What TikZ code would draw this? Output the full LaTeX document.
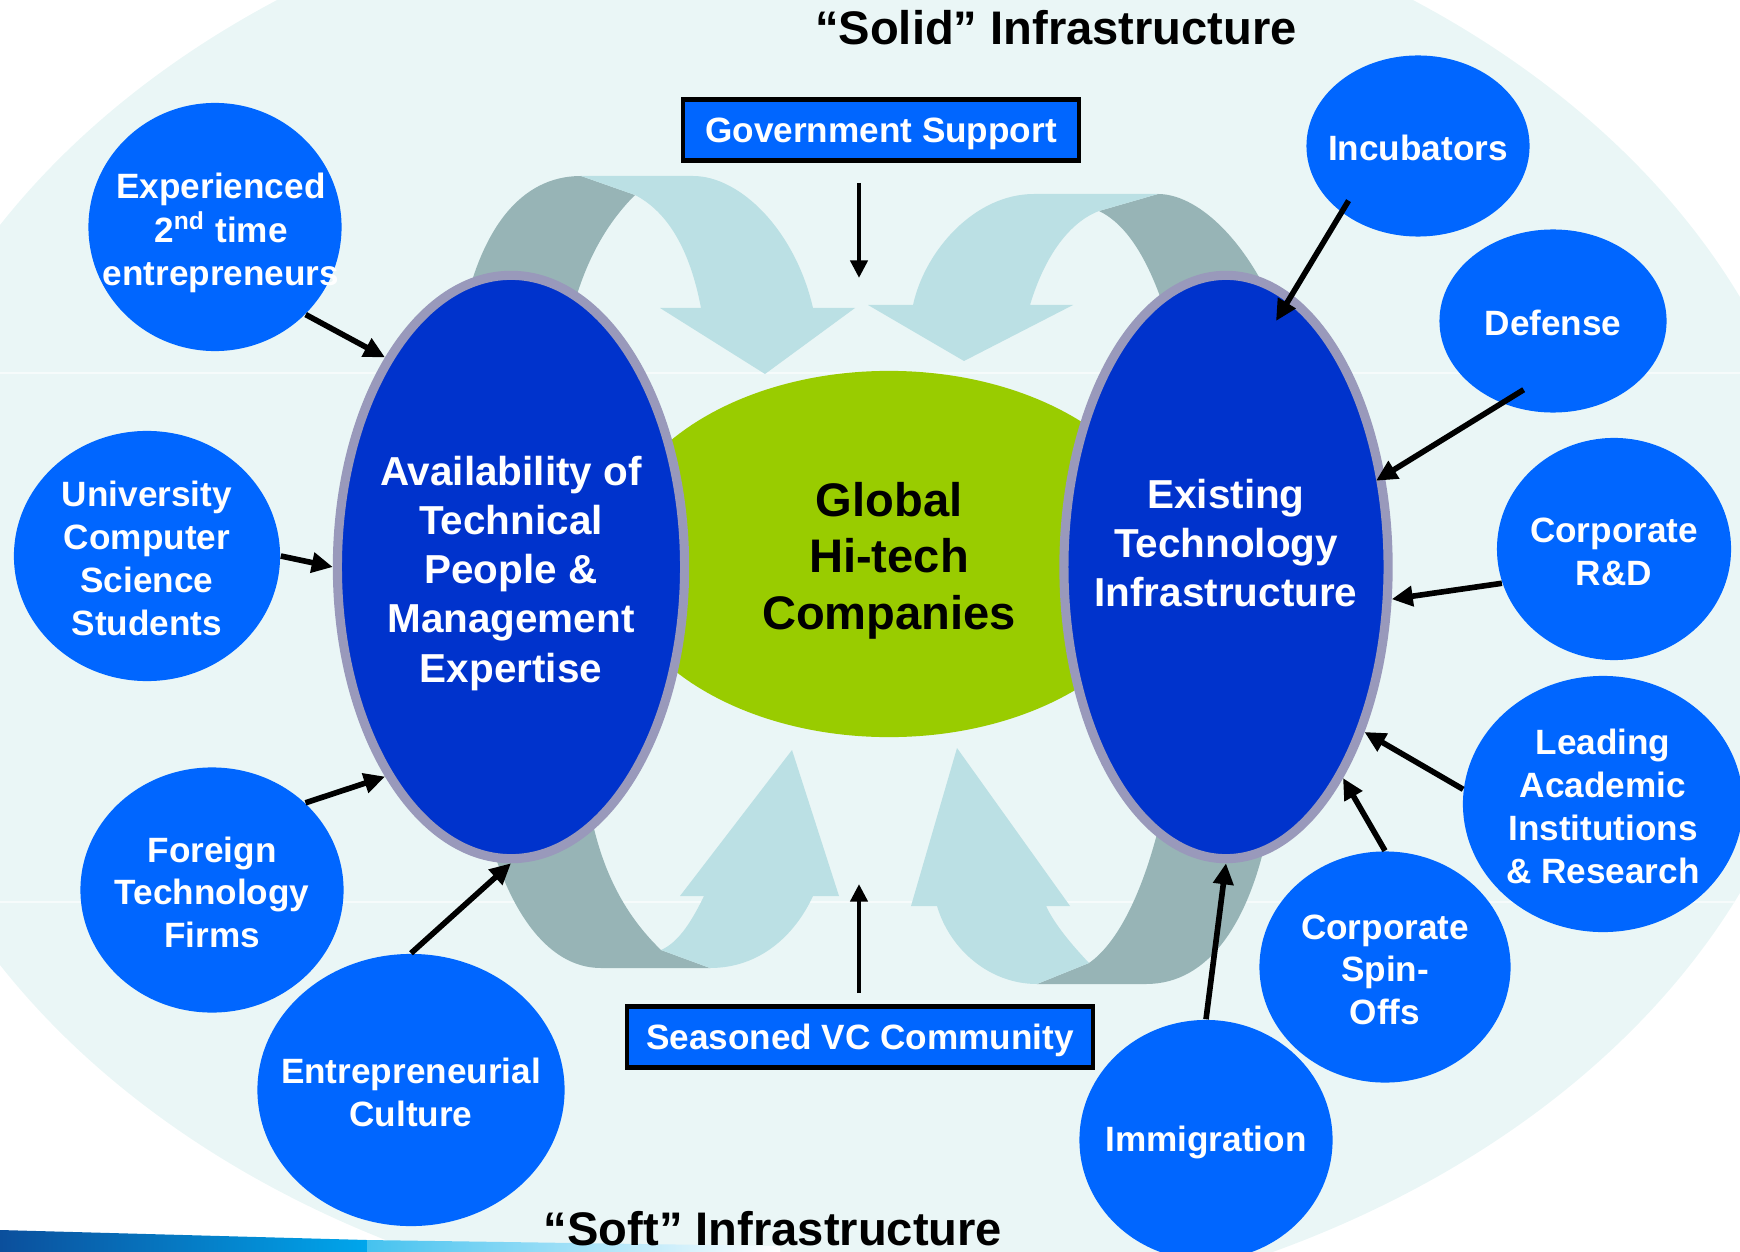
\documentclass[tikz,border=0pt]{standalone}
\usepackage{fontspec}
\setmainfont{Liberation Sans}
\usetikzlibrary{arrows.meta,shapes.geometric}
\definecolor{bgcyan}{HTML}{EAF6F6}
\definecolor{ribbonlight}{HTML}{BBE0E4}
\definecolor{ribbongray}{HTML}{97B4B6}
\definecolor{hitechgreen}{HTML}{99CC00}
\definecolor{coreblue}{HTML}{0033CC}
\definecolor{corerim}{HTML}{9999BB}
\definecolor{factorblue}{HTML}{0066FF}
\definecolor{swooshdark}{HTML}{0B4F9C}
\definecolor{swooshblue}{HTML}{00A6EC}
\definecolor{swooshlight}{HTML}{45C2EF}
\newcommand{\ovaltext}[2][0pt]{\makebox[0pt]{\raisebox{\dimexpr#1-0.43em\relax}[0pt][0pt]{\begin{tabular}{@{}c@{}}#2\end{tabular}}}}
\begin{document}
\begin{tikzpicture}[x=0.01cm,y=-0.01cm,>={Triangle[length=6pt,width=5.6pt]}]
\tikzset{
  factor/.style={shape=ellipse,fill=factorblue,inner sep=0pt,text=white,font=\fontsize{10}{12.2}\selectfont\bfseries},
  core/.style={shape=ellipse,fill=coreblue,draw=corerim,line width=2.6pt,inner sep=0pt,text=white,minimum height=5.83cm,font=\fontsize{11.5}{14}\selectfont\bfseries},
  banner/.style={draw=black,line width=1.2pt,fill=factorblue,text=white,inner sep=0pt,text height=7.2pt,text depth=0pt,minimum height=0.61cm,font=\fontsize{10}{12}\selectfont\bfseries},
  heading/.style={inner sep=0pt,font=\fontsize{13.4}{16}\selectfont\bfseries},
  feed/.style={->,line width=1.6pt},
  lead/.style={-{Triangle[length=5pt,width=4.8pt]},line width=1.3pt}
}
\useasboundingbox (0,0) rectangle (1740,1252);
\fill[bgcyan] (845,595) ellipse [x radius=980,y radius=730];
\begin{scope}
\clip (845,595) ellipse [x radius=980,y radius=730];
\draw[white!55!bgcyan,line width=0.8pt] (0,373) -- (1740,373) (0,902) -- (1740,902);
\end{scope}
\shade[left color=swooshdark,right color=swooshblue] (0,1230) -- (367,1240) -- (367,1252) -- (0,1252) -- cycle;
\shade[left color=swooshlight,right color=white] (367,1240) -- (780,1246) -- (780,1252) -- (367,1252) -- cycle;
% ribbons round the two pillars
\fill[ribbongray] (462,320) .. controls (480,230) and (520,176) .. (581,176) -- (635,195) .. controls (605,225) and (583,265) .. (570,320) -- cycle;
\fill[ribbonlight] (581,176) -- (693,176) .. controls (740,176) and (795,230) .. (813,308) -- (855,308) -- (765,374) -- (660,308) -- (701,308) .. controls (690,250) and (668,212) .. (635,195) -- cycle;
\fill[ribbongray] (1158,194) .. controls (1195,194) and (1245,235) .. (1280,320) -- (1168,320) .. controls (1150,262) and (1128,225) .. (1099,211) -- cycle;
\fill[ribbonlight] (1158,194) -- (1034,194) .. controls (975,194) and (925,250) .. (913,305) -- (868,305) -- (964,361) -- (1073,305) -- (1030,305) .. controls (1045,255) and (1070,222) .. (1099,211) -- cycle;
\fill[ribbongray] (485,820) .. controls (505,905) and (545,968) .. (601,968) -- (710,968) -- (661,950) .. controls (630,920) and (605,880) .. (592,820) -- cycle;
\fill[ribbonlight] (661,950) -- (710,968) .. controls (760,968) and (795,935) .. (813,896) -- (839,896) -- (792,750) -- (680,896) -- (704,896) .. controls (690,925) and (677,943) .. (661,950) -- cycle;
\fill[ribbongray] (1037,984) -- (1146,984) .. controls (1210,984) and (1250,920) .. (1268,830) -- (1158,830) .. controls (1140,900) and (1115,945) .. (1089,963) -- cycle;
\fill[ribbonlight] (937,906) .. controls (950,950) and (990,984) .. (1037,984) -- (1089,963) .. controls (1072,945) and (1055,925) .. (1046,906) -- (1070,906) -- (957,748) -- (911,906) -- cycle;
\node[shape=ellipse,fill=hitechgreen,inner sep=0pt,minimum width=5.56cm,minimum height=3.66cm,font=\fontsize{13.4}{16}\selectfont\bfseries] (hitech) at (889,554) {\ovaltext{Global\\Hi-tech\\Companies}};
\node[core,minimum width=3.47cm] (talent) at (511,567) {\ovaltext{Availability of\\Technical\\People \&\\Management\\Expertise}};
\node[core,minimum width=3.24cm] (techinfra) at (1226,567) {\ovaltext[0.26cm]{Existing\\Technology\\Infrastructure}};
\node[factor,minimum width=2.53cm,minimum height=2.48cm] (veterans) at (215,227) {\ovaltext{\hspace*{0.12cm}Experienced\\\hspace*{0.12cm}2\textsuperscript{nd} time\\\hspace*{0.12cm}entrepreneurs}};
\node[factor,minimum width=2.66cm,minimum height=2.5cm] (students) at (147,556) {\ovaltext{University\\Computer\\Science\\Students}};
\node[factor,minimum width=2.63cm,minimum height=2.45cm] (foreign) at (212,890) {\ovaltext{Foreign\\Technology\\Firms}};
\node[factor,minimum width=3.07cm,minimum height=2.72cm] (culture) at (411,1090) {\ovaltext{Entrepreneurial\\Culture}};
\node[factor,minimum width=2.23cm,minimum height=1.81cm] (incubators) at (1418,146) {\ovaltext{Incubators}};
\node[factor,minimum width=2.27cm,minimum height=1.83cm] (defense) at (1553,321) {\ovaltext{Defense}};
\node[factor,minimum width=2.34cm,minimum height=2.22cm] (corprd) at (1614,549) {\ovaltext{Corporate\\R\&D}};
\node[factor,minimum width=2.8cm,minimum height=2.56cm] (academia) at (1603,804) {\ovaltext{Leading\\Academic\\Institutions\\\& Research}};
\node[factor,minimum width=2.51cm,minimum height=2.31cm] (spinoffs) at (1385,967) {\ovaltext{Corporate\\Spin-\\Offs}};
\node[factor,minimum width=2.53cm,minimum height=2.4cm] (immigration) at (1206,1140) {\ovaltext[0.03cm]{Immigration}};
\node[banner,minimum width=3.96cm] (gov) at (881,130) {Government Support};
\node[banner,minimum width=4.66cm] (vc) at (860,1037) {Seasoned VC Community};
\node[heading] (solid) at (1056,28) {“Solid” Infrastructure};
\node[heading] (soft) at (773,1229) {“Soft” Infrastructure};
\coordinate (govstem) at (859,183);
\coordinate (govtip) at (859,278);
\coordinate (vcstem) at (859,993);
\coordinate (vctip) at (859,884);
\draw[lead] (govstem) -- (govtip);
\draw[lead] (vcstem) -- (vctip);
\draw[feed] (veterans.-44) -- (talent.121);
\draw[feed] (students.0) -- (talent.180);
\draw[feed] (foreign.43) -- (talent.239);
\draw[feed] (culture.90) -- (talent.270);
\draw[feed,shorten <=-0.14cm] (incubators.221) -- ([shift={(50,-246)}]techinfra.center);
\draw[feed,shorten <=-0.26cm,shorten >=-0.1cm] (defense.238) -- (techinfra.30);
\draw[feed] (corprd.197) -- (techinfra.-11);
\draw[feed] (academia.174) -- (techinfra.-50);
\draw[feed] (spinoffs.90) -- (techinfra.-61);
\draw[feed] (immigration.90) -- (techinfra.270);
\end{tikzpicture}
\end{document}
